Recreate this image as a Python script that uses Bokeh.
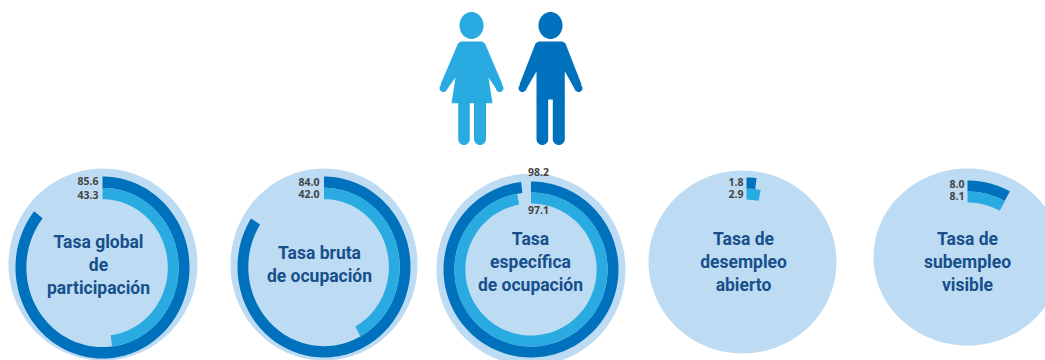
import math
from bokeh.plotting import figure
from bokeh.core.properties import value
from bokeh.embed import file_html
from bokeh.resources import INLINE

LIGHT = "#bddcf3"; MID = "#29abe2"; DARK = "#0071bc"; TXT = "#174f8a"; NUM = "#444444"
titles = [["Tasa global", "de", "participación"], ["Tasa bruta", "de ocupación"],
          ["Tasa", "específica", "de ocupación"], ["Tasa de", "desempleo", "abierto"],
          ["Tasa de", "subempleo", "visible"]]
men_values = ["85.6", "84.0", "98.2", "1.8", "8.0"]
women_values = ["43.3", "42.0", "97.1", "2.9", "8.1"]
men_arc = [85.6, 84.0, 98.2, 1.8, 8.0]
women_arc = [48.0, 42.0, 97.1, 2.9, 8.1]
disc_x = [102.5, 323.5, 530.5, 742, 967]
disc_y = [264, 264, 269, 261.5, 256.5]
disc_rx = [94.5, 93.5, 94.5, 94, 94]
disc_ry = [96, 96, 96, 91.5, 88.5]
ring_x = [102, 323.5, 530.5, 746, 967]
ring_y = [267, 266.5, 269, 266, 268]
ring_rx = [87, 86.5, 87.5, 89, 88]
ring_ry = [91, 90.5, 88, 89, 88]
title_x = [98, 319, 530, 743, 967]
title_y = [264, 264, 261, 261, 261]
num_x = [98, 319, 538, 743, 964]
num_y1 = [180.5, 181.5, 171.5, 181.5, 183.5]
num_y2 = [194.5, 193.5, 209.5, 193.5, 195.5]

W, H = 1045, 360
p = figure(width=W, height=H, x_range=(0, W), y_range=(H, 0), output_backend="svg",
           toolbar_location=None, min_border=0, outline_line_color=None)
p.axis.visible = False
p.grid.visible = False


def ell(cx, cy, a, b, n=120):
    t = [2 * math.pi * i / n for i in range(n)]
    return [cx + a * math.cos(v) for v in t], [cy + b * math.sin(v) for v in t]


def band(cx, cy, a, b, r0, r1, pct, n=160):
    ang = [2 * math.pi * pct / 100 * i / n for i in range(n + 1)]
    xs = [cx + r1 * a * math.sin(v) for v in ang] + [cx + r0 * a * math.sin(v) for v in reversed(ang)]
    ys = [cy - r1 * b * math.cos(v) for v in ang] + [cy - r0 * b * math.cos(v) for v in reversed(ang)]
    return xs, ys


for i in range(5):
    x, y = ell(disc_x[i], disc_y[i], disc_rx[i], disc_ry[i])
    p.patch(x, y, fill_color=LIGHT, line_color=None)
    cx, cy, a, b = ring_x[i], ring_y[i], ring_rx[i], ring_ry[i]
    x, y = band(cx, cy, a, b, 0.875, 1.0, men_arc[i])
    p.patch(x, y, fill_color=DARK, line_color=None)
    x, y = band(cx, cy, a, b, 0.75, 0.875, women_arc[i])
    p.patch(x, y, fill_color=MID, line_color=None)
    lines = titles[i]
    lh = 23
    y0 = title_y[i] - (len(lines) - 1) * lh / 2
    p.text([title_x[i]] * len(lines), [y0 + k * lh for k in range(len(lines))], text=lines,
           text_font=value("Roboto"), text_font_style="bold", text_font_size="17.5px",
           text_color=TXT, text_align="center", text_baseline="middle")
    al = "center" if i == 2 else "right"
    p.text([num_x[i]] * 2, [num_y1[i], num_y2[i]], text=[men_values[i], women_values[i]],
           text_font=value("Open Sans"), text_font_style="bold", text_font_size="10.5px",
           text_color=NUM, text_align=al, text_baseline="middle")


def leg(x0, x1, top, bottom, color):
    r = (x1 - x0) / 2
    arc = [math.pi * k / 16 for k in range(17)]
    xs = [x0, x1] + [x0 + r + r * math.cos(t) for t in arc]
    ys = [top, top] + [bottom - r + r * math.sin(t) for t in arc]
    p.patch(xs, ys, fill_color=color, line_color=None)


def person(cx, color, woman):
    x, y = ell(cx, 25, 12, 13.5)
    p.patch(x, y, fill_color=color, line_color=None)
    if woman:
        xs = [-10.5, 10.5, 13.5, 31, 26.5, 17, 21, -20, -16, -26, -31, -13.5]
        ys = [41, 41, 43, 84, 91, 77, 102.7, 102.7, 77, 91, 84, 43]
    else:
        xs = [-12, 12, 15, 31, 25.5, 14.3, 14.3, -14, -14, -25.5, -31, -15]
        ys = [41, 41, 43, 84, 91, 70.7, 99, 99, 70.7, 91, 84, 43]
    p.patch([cx + v for v in xs], ys, fill_color=color, line_color=None)
    for s in (-1, 1):
        hx, hy = ell(cx + s * 28.2, 87.7, 3.7, 3.9, 24)
        p.patch(hx, hy, fill_color=color, line_color=None)
    if woman:
        leg(cx - 13.3, cx - 1.7, 101.5, 144.5, color)
        leg(cx + 2.5, cx + 14.5, 101.5, 144.5, color)
    else:
        leg(cx - 14, cx - 2.3, 98, 144.5, color)
        leg(cx + 2.3, cx + 14.3, 98, 144.5, color)


person(471, MID, True)
person(550, DARK, False)

open("out.html", "w").write(file_html(p, INLINE))
